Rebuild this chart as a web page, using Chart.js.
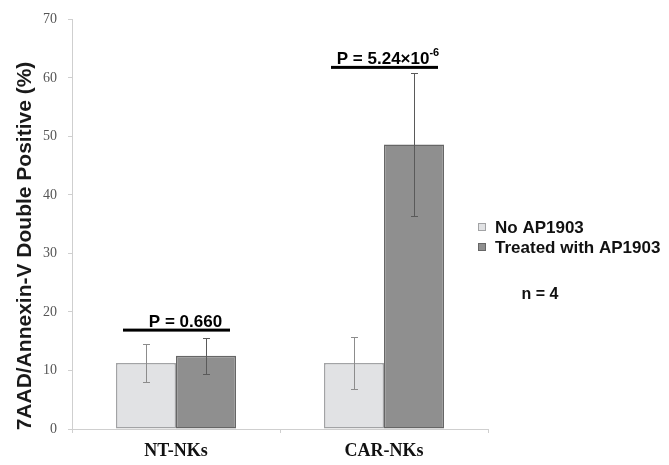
<!DOCTYPE html>
<html>
<head>
<meta charset="utf-8">
<script src="https://cdn.jsdelivr.net/npm/chart.js@4.4.1/dist/chart.umd.min.js"></script>
<style>
  html, body { margin: 0; padding: 0; background: #ffffff; }
  #wrap { width: 669px; height: 465px; position: relative; }
</style>
</head>
<body>
<div id="wrap"><canvas id="c" width="669" height="465"></canvas></div>
<script>
// Cell groups on the x axis
const categories = ['NT-NKs', 'CAR-NKs'];
// Mean % of 7AAD/Annexin-V double positive cells
const noAP1903 = [11.3, 11.3];
const treatedAP1903 = [12.5, 48.6];
// Standard deviation for each bar
const noAP1903Err = [3.2, 4.5];
const treatedAP1903Err = [3.1, 12.2];
// Y axis ticks
const yTicks = [0, 10, 20, 30, 40, 50, 60, 70];
// Significance labels and the level of each bracket line (in % units)
const pLabels = [
  { main: 'P = 0.660', sup: '' },
  { main: 'P = 5.24\u00D710', sup: '-6' }
];
const pLevels = [16.9, 61.8];
const sampleNote = 'n = 4';

const lightFill = '#e1e2e4', lightEdge = '#a2a3a5';
const darkFill = '#8f8f8f', darkEdge = '#666666';

// Error bars drawn over each bar
const errorBars = {
  id: 'errorBars',
  afterDatasetsDraw(chart) {
    const ctx = chart.ctx, y = chart.scales.y;
    const errs = [noAP1903Err, treatedAP1903Err];
    const colours = ['#8c8c8c', '#5a5a5a'];
    ctx.save();
    ctx.lineWidth = 1;
    chart.data.datasets.forEach((ds, di) => {
      ctx.strokeStyle = colours[di];
      chart.getDatasetMeta(di).data.forEach((bar, i) => {
        const v = ds.data[i], e = errs[di][i];
        const x = Math.round(bar.x) + 0.5;
        const yt = Math.round(y.getPixelForValue(v + e)) + 0.5;
        const yb = Math.round(y.getPixelForValue(v - e)) + 0.5;
        ctx.beginPath();
        ctx.moveTo(x, yt); ctx.lineTo(x, yb);
        ctx.moveTo(x - 3.5, yt); ctx.lineTo(x + 3.5, yt);
        ctx.moveTo(x - 3.5, yb); ctx.lineTo(x + 3.5, yb);
        ctx.stroke();
      });
    });
    ctx.restore();
  }
};

// P-value brackets, axis title, legend and sample note
const decorations = {
  id: 'decorations',
  afterDraw(chart) {
    const ctx = chart.ctx, x = chart.scales.x, y = chart.scales.y;
    ctx.save();
    // significance brackets
    const textOffsets = [9.5, 4];
    pLabels.forEach((p, i) => {
      const cx = x.getPixelForValue(i);
      const ly = y.getPixelForValue(pLevels[i]);
      ctx.fillStyle = '#000';
      ctx.fillRect(cx - 53, ly - 1.5, 107, 3);
      ctx.font = 'bold 17px "Liberation Sans", Arial, sans-serif';
      const mw = ctx.measureText(p.main).width;
      ctx.font = 'bold 11px "Liberation Sans", Arial, sans-serif';
      const sw = p.sup ? ctx.measureText(p.sup).width : 0;
      const start = cx + textOffsets[i] - (mw + sw) / 2;
      ctx.textBaseline = 'alphabetic';
      ctx.textAlign = 'left';
      ctx.font = 'bold 17px "Liberation Sans", Arial, sans-serif';
      ctx.fillText(p.main, start, ly - 3.5);
      if (p.sup) {
        ctx.font = 'bold 11px "Liberation Sans", Arial, sans-serif';
        ctx.fillText(p.sup, start + mw, ly - 11);
      }
    });
    // y axis title
    ctx.save();
    ctx.translate(25, 246);
    ctx.rotate(-Math.PI / 2);
    ctx.textAlign = 'center';
    ctx.textBaseline = 'middle';
    ctx.fillStyle = '#1a1a1a';
    ctx.font = 'bold 21px "Liberation Sans", Arial, sans-serif';
    ctx.fillText('7AAD/Annexin-V Double Positive (%)', 0, 0);
    ctx.restore();
    // legend
    const items = [[lightFill, lightEdge], [darkFill, darkEdge]];
    chart.data.datasets.forEach((ds, i) => {
      const cy = 227 + i * 20;
      ctx.fillStyle = items[i][0];
      ctx.fillRect(478, cy - 4, 8, 8);
      ctx.strokeStyle = items[i][1];
      ctx.lineWidth = 1;
      ctx.strokeRect(478.5, cy - 3.5, 7, 7);
      ctx.fillStyle = '#111';
      ctx.font = 'bold 17px "Liberation Sans", Arial, sans-serif';
      ctx.textAlign = 'left';
      ctx.textBaseline = 'middle';
      ctx.fillText(ds.label, 495, cy + 1);
    });
    // sample size
    ctx.font = 'bold 16px "Liberation Sans", Arial, sans-serif';
    ctx.textAlign = 'center';
    ctx.textBaseline = 'middle';
    ctx.fillStyle = '#111';
    ctx.fillText(sampleNote, 540, 295);
    ctx.restore();
  }
};

new Chart(document.getElementById('c'), {
  type: 'bar',
  data: {
    labels: categories,
    datasets: [
      { label: 'No AP1903', data: noAP1903, backgroundColor: lightFill,
        borderColor: lightEdge, borderWidth: 1.5, borderSkipped: false },
      { label: 'Treated with AP1903', data: treatedAP1903, backgroundColor: darkFill,
        borderColor: darkEdge, borderWidth: 1.5, borderSkipped: false }
    ]
  },
  options: {
    responsive: false,
    animation: false,
    devicePixelRatio: 1,
    layout: { padding: { left: 0, right: 181, top: 14, bottom: 0 } },
    datasets: { bar: { categoryPercentage: 0.577, barPercentage: 1.0 } },
    plugins: { legend: { display: false }, tooltip: { enabled: false } },
    scales: {
      x: {
        grid: { display: true, drawOnChartArea: false, drawTicks: true, tickLength: 4, color: '#cfcfcf', offset: true },
        border: { color: '#cfcfcf', width: 1 },
        ticks: { color: '#111', padding: 8,
          font: { family: '"Liberation Serif", "Times New Roman", serif', size: 18, weight: 'bold' } },
        afterFit(s) { s.height = 36; }
      },
      y: {
        min: 0, max: 70,
        afterBuildTicks(s) { s.ticks = yTicks.map(v => ({ value: v })); },
        grid: { display: true, drawOnChartArea: false, drawTicks: true, tickLength: 4, color: '#cfcfcf' },
        border: { color: '#cfcfcf', width: 1 },
        ticks: { color: '#555', padding: 11,
          font: { family: '"Liberation Serif", "Times New Roman", serif', size: 14 } },
        afterFit(s) { s.width = 72; }
      }
    }
  },
  plugins: [errorBars, decorations]
});
</script>
</body>
</html>
